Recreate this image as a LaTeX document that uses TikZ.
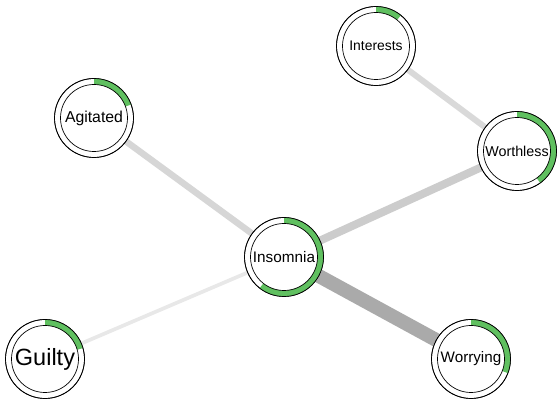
\documentclass[tikz,border=0pt]{standalone}
\usepackage{fontspec}
\setmainfont{Liberation Sans}
\usetikzlibrary{calc}
\pgfdeclarelayer{bg}
\pgfsetlayers{bg,main}
\definecolor{piegreen}{RGB}{96,192,96}
\definecolor{eA}{RGB}{170,170,170}
\definecolor{eB}{RGB}{204,204,204}
\definecolor{eC}{RGB}{214,214,214}
\definecolor{eD}{RGB}{217,217,217}
\definecolor{eE}{RGB}{232,232,232}
\tikzset{
  qcirc/.style={circle,draw=black,line width=0.7pt,fill=white,minimum size=79pt,inner sep=0pt},
  qlab/.style={inner sep=0pt},
  pie/.style={fill=piegreen},
  edge/.style={line cap=butt}
}
\newcommand\qn[6]{%
  \node[qcirc] (#1) at (#2,#3) {};
  \fill[pie] ($(#2,#3)+(90:39.5)$) arc[start angle=90,end angle={90-#4},radius=39.5]
     -- ($(#2,#3)+({90-#4}:33.5)$) arc[start angle={90-#4},end angle=90,radius=33.5] -- cycle;
  \draw[line width=0.7pt] (#2,#3) circle[radius=39.5];
  \draw[line width=0.7pt] (#2,#3) circle[radius=33.5];
  \node[qlab,font=\fontsize{#5}{#5}\selectfont] (#1-l) at (#2,#3) {#6};
}
\begin{document}
\begin{tikzpicture}[x=1pt,y=1pt]
\useasboundingbox (0,0) rectangle (558,401);
\qn{ins}{284}{144}{218}{15.3}{Insomnia}
\qn{agi}{94}{283}{70}{15.8}{Agitated}
\qn{gui}{45}{42}{74}{23.5}{Guilty}
\qn{wor}{471}{42}{111}{15.2}{Worrying}
\qn{wth}{517}{250}{144}{14.3}{Worthless}
\qn{int}{376}{355}{39}{13.9}{Interests}
\begin{pgfonlayer}{bg}
\draw[edge,eA,line width=14pt] (ins) -- (wor);
\draw[edge,eB,line width=8pt] (ins) -- (wth);
\draw[edge,eC,line width=6.5pt] (ins) -- (agi);
\draw[edge,eD,line width=6pt] (int) -- (wth);
\draw[edge,eE,line width=3.7pt] (ins) -- (gui);
\end{pgfonlayer}
\end{tikzpicture}
\end{document}
